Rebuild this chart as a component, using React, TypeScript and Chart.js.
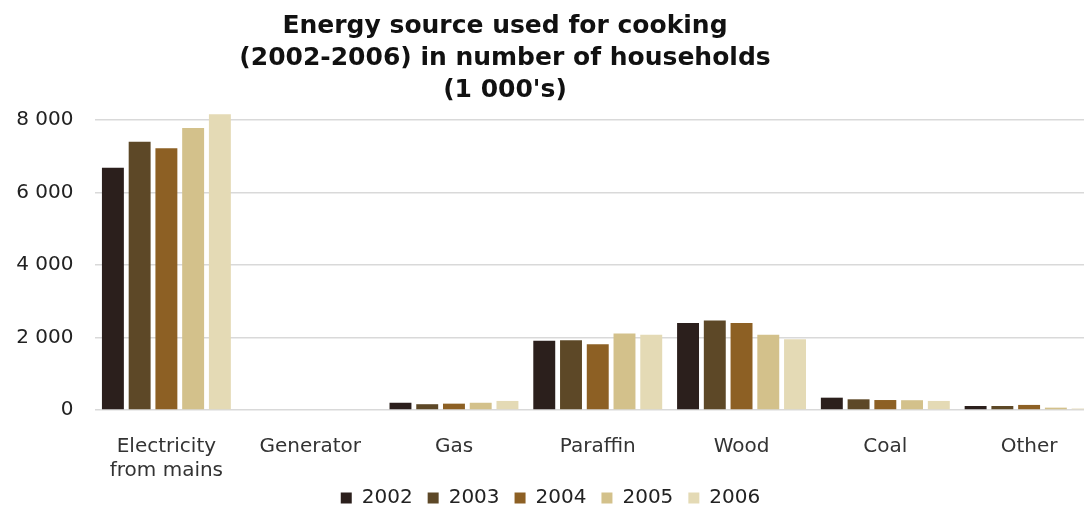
import React, { useEffect, useRef } from "react";
import { Chart, registerables } from "chart.js";

Chart.register(...registerables);

const categories: (string | string[])[] = [
  ["Electricity", "from mains"],
  "Generator",
  "Gas",
  "Paraffin",
  "Wood",
  "Coal",
  "Other",
];

const years = ["2002", "2003", "2004", "2005", "2006"];

const values2002 = [6680, 0, 200, 1910, 2400, 340, 110];
const values2003 = [7400, 0, 160, 1925, 2470, 295, 110];
const values2004 = [7220, 0, 175, 1815, 2400, 275, 140];
const values2005 = [7780, 0, 200, 2110, 2075, 270, 65];
const values2006 = [8160, 0, 250, 2075, 1955, 250, 40];

const yTicks = [0, 2000, 4000, 6000, 8000];

const titleLines = [
  "Energy source used for cooking",
  "(2002-2006) in number of households",
  "(1 000's)",
];

const colors = ["#2b1f1c", "#5d4827", "#8d6024", "#d3c18b", "#e4dab5"];

const FONT = "'DejaVu Sans', Verdana, sans-serif";

const titlePlugin = {
  id: "customTitle",
  afterDraw(chart: any) {
    const ctx = chart.ctx;
    ctx.save();
    ctx.font = `bold 25px ${FONT}`;
    ctx.fillStyle = "#111111";
    ctx.textAlign = "center";
    ctx.textBaseline = "alphabetic";
    const baselines = [33, 65, 97];
    titleLines.forEach((line, i) => ctx.fillText(line, 505, baselines[i]));
    ctx.restore();
  },
};

const legendShiftPlugin = {
  id: "legendShift",
  afterLayout(chart: any) {
    const lg = chart.legend;
    if (lg) {
      lg.top -= 13;
      lg.bottom -= 13;
    }
  },
};

export default function App() {
  const canvasRef = useRef<HTMLCanvasElement | null>(null);

  useEffect(() => {
    const canvas = canvasRef.current;
    if (!canvas) return;
    const series = [values2002, values2003, values2004, values2005, values2006];
    const chart = new Chart(canvas, {
      type: "bar",
      data: {
        labels: categories,
        datasets: years.map((y, i) => ({
          label: y,
          data: series[i],
          backgroundColor: colors[i],
          borderWidth: 0,
          barPercentage: 0.82,
          categoryPercentage: 0.93,
          clip: false as any,
        })),
      },
      options: {
        responsive: false,
        animation: false,
        devicePixelRatio: 1,
        layout: { padding: { top: 120, left: 0, right: 0, bottom: 0 } },
        plugins: {
          title: { display: false },
          tooltip: { enabled: false },
          legend: {
            display: true,
            position: "bottom",
            labels: {
              boxWidth: 11,
              boxHeight: 11,
              padding: 15,
              color: "#222222",
              font: { family: FONT, size: 20 },
            },
          },
        },
        scales: {
          x: {
            grid: { display: false },
            border: { display: false },
            ticks: {
              color: "#333333",
              font: { family: FONT, size: 20 },
              padding: 17,
              maxRotation: 0,
              autoSkip: false,
            },
            afterFit(scale: any) {
              scale.height = 76;
            },
          },
          y: {
            min: 0,
            max: 8000,
            afterBuildTicks(scale: any) {
              scale.ticks = yTicks.map((v) => ({ value: v }));
            },
            grid: {
              color: "#d9d9d9",
              lineWidth: 1.5,
              drawTicks: false,
            },
            border: { display: false },
            ticks: {
              color: "#222222",
              font: { family: FONT, size: 20 },
              padding: 21,
              callback: (v: any) =>
                String(v).replace(/\B(?=(\d{3})+(?!\d))/g, " "),
            },
            afterFit(scale: any) {
              scale.width = 94.5;
            },
          },
        },
      },
      plugins: [titlePlugin, legendShiftPlugin],
    });
    return () => chart.destroy();
  }, []);

  return (
    <div
      style={{
        position: "fixed",
        left: 0,
        top: 0,
        width: 1084,
        height: 508,
        overflow: "hidden",
        background: "#ffffff",
      }}
    >
      <canvas
        ref={canvasRef}
        width={1101}
        height={531}
        style={{ display: "block", width: 1101, height: 531 }}
      />
    </div>
  );
}
